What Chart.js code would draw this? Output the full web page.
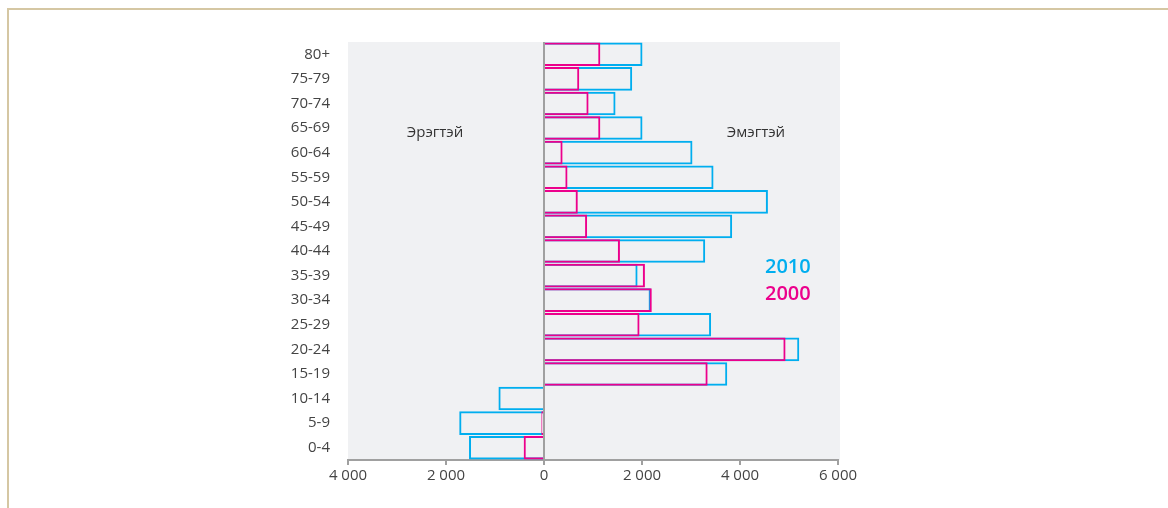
<!DOCTYPE html>
<html>
<head>
<meta charset="utf-8">
<script src="https://cdn.jsdelivr.net/npm/chart.js@4"></script>
<style>
  html, body { margin: 0; padding: 0; background: #fff; }
  #wrap { position: relative; width: 1168px; height: 508px; overflow: hidden; font-family: "Open Sans", "Noto Sans", sans-serif; }
  #frame { position: absolute; left: 7px; top: 8px; width: 1200px; height: 600px; border-top: 2px solid #d5c7a3; border-left: 2px solid #d5c7a3; }
  #c { position: absolute; left: 0; top: 0; }
  .note { position: absolute; font-size: 15px; color: #333; transform: translate(-50%, -50%); white-space: nowrap; }
  .yr { position: absolute; font-size: 20px; font-weight: 600; transform: translateY(-50%); }
</style>
</head>
<body>
<div id="wrap">
  <div id="frame"></div>
  <canvas id="c" width="1168" height="508"></canvas>
  <div class="note" style="left:435px; top:131px;">Эрэгтэй</div>
  <div class="note" style="left:756px; top:131px;">Эмэгтэй</div>
  <div class="yr" style="left:765px; top:265px; color:#00aeef;">2010</div>
  <div class="yr" style="left:765px; top:292px; color:#ec008c;">2000</div>
</div>
<script>
  const ageGroups = ['80+', '75-79', '70-74', '65-69', '60-64', '55-59', '50-54', '45-49',
    '40-44', '35-39', '30-34', '25-29', '20-24', '15-19', '10-14', '5-9', '0-4'];
  const values2010 = [2010, 1800, 1460, 2010, 3030, 3460, 4570, 3840,
    3290, 1910, 2180, 3410, 5210, 3740, -930, -1730, -1530];
  const values2000 = [1150, 720, 910, 1150, 380, 480, 690, 880,
    1550, 2060, 2200, 1950, 4930, 3340, -20, -55, -415];
  const xTicks = [-4000, -2000, 0, 2000, 4000, 6000];

  const CYAN = '#00aeef';
  const MAGENTA = '#ec008c';

  // серый фон области графика
  const plotBg = {
    id: 'plotBg',
    beforeDraw(chart) {
      const a = chart.chartArea, ctx = chart.ctx;
      ctx.save();
      ctx.fillStyle = '#f0f1f3';
      ctx.fillRect(a.left, a.top, a.right - a.left + 2, a.bottom - a.top);
      ctx.restore();
    }
  };

  const fmt = (v) => {
    const n = Math.abs(v);
    return n >= 1000 ? String(n).replace(/\B(?=(\d{3})+(?!\d))/g, ' ') : String(n);
  };

  new Chart(document.getElementById('c'), {
    type: 'bar',
    data: {
      labels: ageGroups,
      datasets: [
        { label: '2000', data: values2000, order: 1, grouped: false,
          backgroundColor: 'rgba(0,0,0,0)', borderColor: MAGENTA, borderWidth: 2,
          barPercentage: 0.96, categoryPercentage: 1 },
        { label: '2010', data: values2010, order: 2, grouped: false,
          backgroundColor: 'rgba(0,0,0,0)', borderColor: CYAN, borderWidth: 2,
          barPercentage: 0.96, categoryPercentage: 1 }
      ]
    },
    options: {
      indexAxis: 'y',
      responsive: false,
      animation: false,
      layout: { padding: { top: 42, right: 330, left: 0, bottom: 0 } },
      plugins: { legend: { display: false }, tooltip: { enabled: false } },
      scales: {
        x: {
          min: -4000, max: 6000,
          afterBuildTicks: (s) => { s.ticks = xTicks.map(v => ({ value: v })); },
          afterFit: (s) => { s.height = 48; },
          grid: {
            drawOnChartArea: true,
            color: (c) => (c.tick && c.tick.value === 0 ? '#a0a0a0' : 'rgba(0,0,0,0)'),
            lineWidth: 2,
            tickColor: '#a0a0a0',
            tickLength: 5
          },
          border: { display: true, color: '#a0a0a0', width: 2 },
          ticks: { color: '#444', font: { family: 'Open Sans', size: 15 }, padding: 2, callback: (v) => fmt(v) }
        },
        y: {
          afterFit: (s) => { s.width = 348; },
          grid: { display: false },
          border: { display: false },
          ticks: { color: '#444', font: { family: 'Open Sans', size: 15 }, padding: 10 }
        }
      }
    },
    plugins: [plotBg]
  });
</script>
</body>
</html>
